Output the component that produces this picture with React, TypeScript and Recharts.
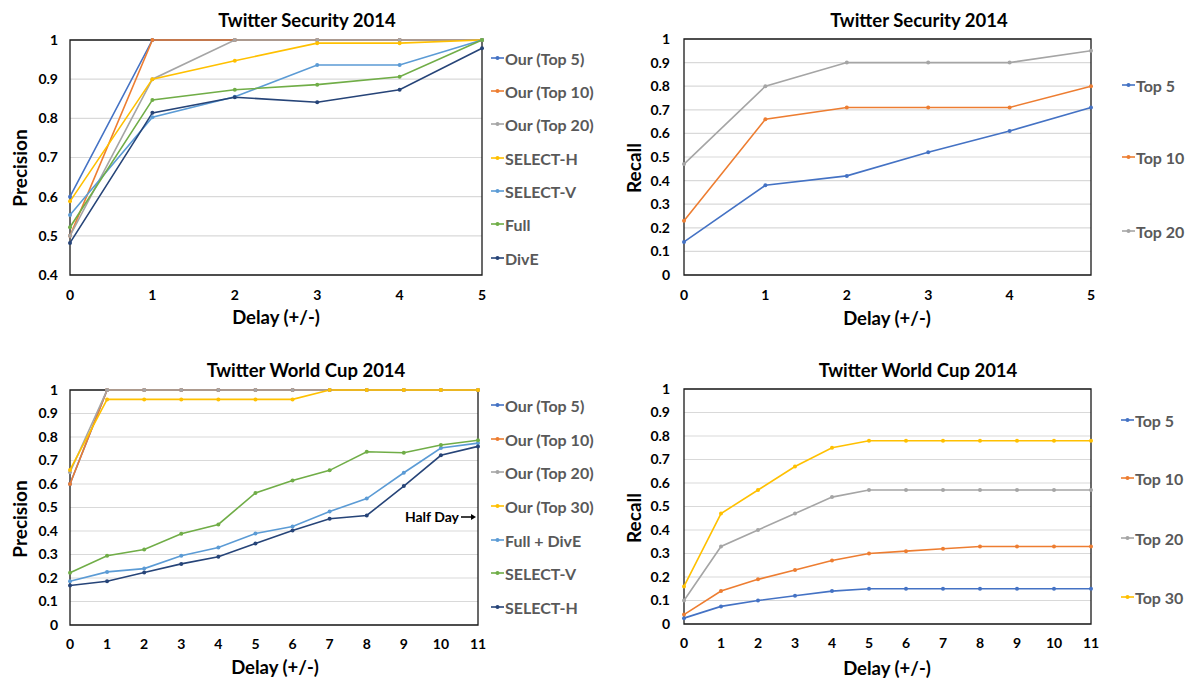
import React from "react";
import {
  LineChart,
  Line,
  XAxis,
  YAxis,
  CartesianGrid,
  ReferenceArea,
} from "recharts";

const FONT = "Lato, 'Open Sans', sans-serif";

const BLUE = "#4472C4";
const ORANGE = "#ED7D31";
const GRAY = "#A5A5A5";
const YELLOW = "#FFC000";
const LIGHT_BLUE = "#5B9BD5";
const GREEN = "#70AD47";
const NAVY = "#264478";

// Twitter Security 2014, delay 0..5
const securityDelays = [0, 1, 2, 3, 4, 5];
const secPrecOurTop5 = [0.6, 1, 1, 1, 1, 1];
const secPrecOurTop10 = [0.5, 1, 1, 1, 1, 1];
const secPrecOurTop20 = [0.5, 0.9, 1, 1, 1, 1];
const secPrecSelectH = [0.588, 0.9, 0.947, 0.992, 0.992, 1];
const secPrecSelectV = [0.553, 0.803, 0.855, 0.936, 0.936, 1];
const secPrecFull = [0.522, 0.847, 0.873, 0.886, 0.906, 1];
const secPrecDivE = [0.482, 0.814, 0.854, 0.841, 0.873, 0.979];

const secRecallTop5 = [0.14, 0.38, 0.42, 0.52, 0.61, 0.71];
const secRecallTop10 = [0.23, 0.66, 0.71, 0.71, 0.71, 0.8];
const secRecallTop20 = [0.47, 0.8, 0.9, 0.9, 0.9, 0.95];

// Twitter World Cup 2014, delay 0..11
const worldCupDelays = [0, 1, 2, 3, 4, 5, 6, 7, 8, 9, 10, 11];
const wcPrecOurTop5 = [0.6, 1, 1, 1, 1, 1, 1, 1, 1, 1, 1, 1];
const wcPrecOurTop10 = [0.6, 1, 1, 1, 1, 1, 1, 1, 1, 1, 1, 1];
const wcPrecOurTop20 = [0.65, 1, 1, 1, 1, 1, 1, 1, 1, 1, 1, 1];
const wcPrecOurTop30 = [0.66, 0.96, 0.96, 0.96, 0.96, 0.96, 0.96, 1, 1, 1, 1, 1];
const wcPrecFullDivE = [0.186, 0.226, 0.24, 0.295, 0.33, 0.389, 0.419, 0.483, 0.538, 0.648, 0.753, 0.774];
const wcPrecSelectV = [0.222, 0.295, 0.321, 0.388, 0.428, 0.562, 0.615, 0.658, 0.737, 0.733, 0.766, 0.786];
const wcPrecSelectH = [0.168, 0.186, 0.223, 0.26, 0.29, 0.347, 0.402, 0.452, 0.466, 0.591, 0.722, 0.76];

const wcRecallTop5 = [0.025, 0.075, 0.1, 0.12, 0.14, 0.15, 0.15, 0.15, 0.15, 0.15, 0.15, 0.15];
const wcRecallTop10 = [0.04, 0.14, 0.19, 0.23, 0.27, 0.3, 0.31, 0.32, 0.33, 0.33, 0.33, 0.33];
const wcRecallTop20 = [0.1, 0.33, 0.4, 0.47, 0.54, 0.57, 0.57, 0.57, 0.57, 0.57, 0.57, 0.57];
const wcRecallTop30 = [0.16, 0.47, 0.57, 0.67, 0.75, 0.78, 0.78, 0.78, 0.78, 0.78, 0.78, 0.78];

const precisionTicks = [0.4, 0.5, 0.6, 0.7, 0.8, 0.9, 1];
const fullTicks = [0, 0.1, 0.2, 0.3, 0.4, 0.5, 0.6, 0.7, 0.8, 0.9, 1];

type Series = { name: string; color: string; values: number[] };

type PanelProps = {
  left: number;
  top: number;
  width: number;
  height: number;
  margin: { top: number; right: number; bottom: number; left: number };
  delays: number[];
  series: Series[];
  yTicks: number[];
  xTickMargin: number;
  yTickMargin: number;
  title: string;
  titlePos: [number, number];
  yLabel: string;
  yLabelPos: [number, number];
  xLabelPos: [number, number];
  legendX: number;
  legendYs: number[];
};

const centered = (x: number, y: number, rotate = false): React.CSSProperties => ({
  position: "absolute",
  left: x,
  top: y,
  transform: `translate(-50%, -50%)${rotate ? " rotate(-90deg)" : ""}`,
  whiteSpace: "nowrap",
  fontFamily: FONT,
  fontWeight: 700,
  color: "#000",
  lineHeight: 1,
});

function Panel(p: PanelProps) {
  const data = p.delays.map((d, i) => {
    const row: Record<string, number> = { delay: d };
    p.series.forEach((s) => (row[s.name] = s.values[i]));
    return row;
  });
  const xMax = p.delays[p.delays.length - 1];
  const yMin = p.yTicks[0];
  const yMax = p.yTicks[p.yTicks.length - 1];
  const tickStyle = { fill: "#000", fontSize: 14, fontWeight: 700, fontFamily: FONT };

  return (
    <>
      <div style={{ position: "absolute", left: p.left, top: p.top }}>
        <LineChart width={p.width} height={p.height} data={data} margin={p.margin}>
          <CartesianGrid vertical={false} stroke="#d9d9d9" strokeWidth={1.2} />
          <XAxis
            dataKey="delay"
            type="number"
            domain={[0, xMax]}
            ticks={p.delays}
            interval={0}
            axisLine={false}
            tickLine={false}
            tickSize={0}
            tickMargin={p.xTickMargin}
            height={30}
            tick={tickStyle}
          />
          <YAxis
            type="number"
            domain={[yMin, yMax]}
            ticks={p.yTicks}
            interval={0}
            axisLine={false}
            tickLine={false}
            tickSize={0}
            tickMargin={p.yTickMargin}
            width={50}
            tick={tickStyle}
            tickFormatter={(v: number) => String(Math.round(v * 10) / 10)}
          />
          <ReferenceArea
            x1={0}
            x2={xMax}
            y1={yMin}
            y2={yMax}
            fill="none"
            fillOpacity={0}
            stroke="#1a1a1a"
            strokeWidth={1.3}
          />
          {p.series.map((s) => (
            <Line
              key={s.name}
              type="linear"
              dataKey={s.name}
              stroke={s.color}
              strokeWidth={1.6}
              dot={{ r: 2, fill: s.color, stroke: s.color, strokeWidth: 0 }}
              activeDot={false}
              isAnimationActive={false}
            />
          ))}
        </LineChart>
      </div>

      <div style={{ ...centered(p.titlePos[0], p.titlePos[1]), fontSize: 18.5 }}>{p.title}</div>
      <div style={{ ...centered(p.xLabelPos[0], p.xLabelPos[1]), fontSize: 18.5 }}>Delay (+/-)</div>
      <div style={{ ...centered(p.yLabelPos[0], p.yLabelPos[1], true), fontSize: 19 }}>{p.yLabel}</div>

      {p.series.map((s, i) => (
        <div
          key={s.name}
          style={{
            position: "absolute",
            left: p.legendX,
            top: p.legendYs[i] - 10,
            height: 20,
            display: "flex",
            alignItems: "center",
            whiteSpace: "nowrap",
            fontFamily: FONT,
            fontWeight: 700,
            fontSize: 16,
            color: "#595959",
          }}
        >
          <svg width={13} height={8} style={{ marginRight: 1 }}>
            <line x1={0} y1={4} x2={13} y2={4} stroke={s.color} strokeWidth={1.6} />
            <circle cx={6.5} cy={4} r={2} fill={s.color} />
          </svg>
          {s.name}
        </div>
      ))}
    </>
  );
}

export default function App() {
  return (
    <div
      style={{
        position: "absolute",
        left: 0,
        top: 0,
        width: 1186,
        height: 678,
        background: "#fff",
        overflow: "hidden",
      }}
    >
      <Panel
        left={0}
        top={0}
        width={600}
        height={340}
        margin={{ top: 40, right: 118, bottom: 35, left: 20 }}
        delays={securityDelays}
        series={[
          { name: "Our (Top 5)", color: BLUE, values: secPrecOurTop5 },
          { name: "Our (Top 10)", color: ORANGE, values: secPrecOurTop10 },
          { name: "Our (Top 20)", color: GRAY, values: secPrecOurTop20 },
          { name: "SELECT-H", color: YELLOW, values: secPrecSelectH },
          { name: "SELECT-V", color: LIGHT_BLUE, values: secPrecSelectV },
          { name: "Full", color: GREEN, values: secPrecFull },
          { name: "DivE", color: NAVY, values: secPrecDivE },
        ]}
        yTicks={precisionTicks}
        xTickMargin={15}
        yTickMargin={12}
        title="Twitter Security 2014"
        titlePos={[307, 20]}
        yLabel="Precision"
        yLabelPos={[19, 168]}
        xLabelPos={[276, 317]}
        legendX={491}
        legendYs={[58, 91, 124, 158, 191, 224, 258]}
      />

      <Panel
        left={600}
        top={0}
        width={586}
        height={340}
        margin={{ top: 39, right: 95, bottom: 35, left: 34 }}
        delays={securityDelays}
        series={[
          { name: "Top 5", color: BLUE, values: secRecallTop5 },
          { name: "Top 10", color: ORANGE, values: secRecallTop10 },
          { name: "Top 20", color: GRAY, values: secRecallTop20 },
        ]}
        yTicks={fullTicks}
        xTickMargin={15}
        yTickMargin={14}
        title="Twitter Security 2014"
        titlePos={[919, 20]}
        yLabel="Recall"
        yLabelPos={[633, 168]}
        xLabelPos={[887, 318]}
        legendX={1122}
        legendYs={[85, 157, 231]}
      />

      <Panel
        left={0}
        top={350}
        width={600}
        height={328}
        margin={{ top: 40, right: 122, bottom: 23, left: 20 }}
        delays={worldCupDelays}
        series={[
          { name: "Our (Top 5)", color: BLUE, values: wcPrecOurTop5 },
          { name: "Our (Top 10)", color: ORANGE, values: wcPrecOurTop10 },
          { name: "Our (Top 20)", color: GRAY, values: wcPrecOurTop20 },
          { name: "Our (Top 30)", color: YELLOW, values: wcPrecOurTop30 },
          { name: "Full + DivE", color: LIGHT_BLUE, values: wcPrecFullDivE },
          { name: "SELECT-V", color: GREEN, values: wcPrecSelectV },
          { name: "SELECT-H", color: NAVY, values: wcPrecSelectH },
        ]}
        yTicks={fullTicks}
        xTickMargin={14}
        yTickMargin={12}
        title="Twitter World Cup 2014"
        titlePos={[306, 370]}
        yLabel="Precision"
        yLabelPos={[19, 519]}
        xLabelPos={[275, 667]}
        legendX={491}
        legendYs={[405, 439, 472, 506, 540, 573, 607]}
      />

      <Panel
        left={600}
        top={350}
        width={586}
        height={328}
        margin={{ top: 39, right: 95, bottom: 24, left: 34 }}
        delays={worldCupDelays}
        series={[
          { name: "Top 5", color: BLUE, values: wcRecallTop5 },
          { name: "Top 10", color: ORANGE, values: wcRecallTop10 },
          { name: "Top 20", color: GRAY, values: wcRecallTop20 },
          { name: "Top 30", color: YELLOW, values: wcRecallTop30 },
        ]}
        yTicks={fullTicks}
        xTickMargin={14}
        yTickMargin={14}
        title="Twitter World Cup 2014"
        titlePos={[918, 370]}
        yLabel="Recall"
        yLabelPos={[633, 518]}
        xLabelPos={[887, 668]}
        legendX={1121}
        legendYs={[420, 478, 538, 597]}
      />

      {/* "Half Day" note next to the last delay of the world cup precision chart */}
      <div
        style={{
          position: "absolute",
          right: 1186 - 477,
          top: 508,
          display: "flex",
          alignItems: "center",
          fontFamily: FONT,
          fontWeight: 700,
          fontSize: 14,
          color: "#000",
          whiteSpace: "nowrap",
        }}
      >
        Half Day
        <svg width={16} height={8} style={{ marginLeft: 2 }}>
          <line x1={0} y1={4} x2={11} y2={4} stroke="#000" strokeWidth={1.5} />
          <path d="M10 1 L15 4 L10 7 Z" fill="#000" />
        </svg>
      </div>
    </div>
  );
}
